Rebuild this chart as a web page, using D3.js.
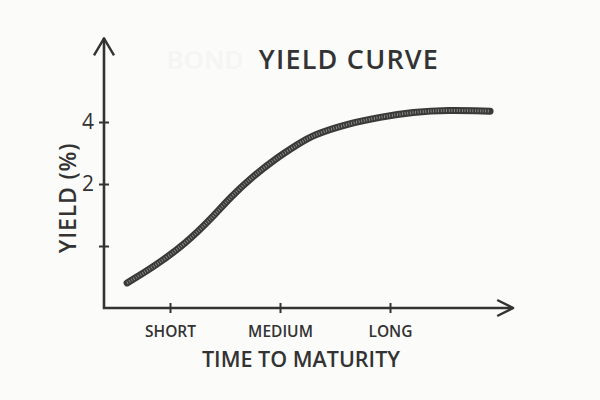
<!DOCTYPE html>
<html>
<head>
<meta charset="utf-8">
<script src="https://cdn.jsdelivr.net/npm/d3@7"></script>
<style>
  body { margin: 0; background: #fbfbf9; }
  text { font-family: "Open Sans", "DejaVu Sans", sans-serif; fill: #333; }
</style>
</head>
<body>
<div class="chart"></div>
<script>
// maturity: 1 = short, 2 = medium, 3 = long
const maturity = [0.61, 0.85, 1.15, 1.39, 1.55, 1.75, 1.94, 2.18, 2.30, 2.61, 2.91, 3.21, 3.52, 3.91];
const yieldPct = [-1.19, -0.68, 0.10, 0.94, 1.58, 2.23, 2.77, 3.32, 3.58, 3.94, 4.16, 4.32, 4.39, 4.35];
const xTicks = [1, 2, 3];
const xTickLabels = ['SHORT', 'MEDIUM', 'LONG'];
const yTicks = [0, 2, 4];
const yTickLabels = ['', '2', '4'];

const width = 600, height = 400;
const svg = d3.select('.chart')
              .append('svg')
              .attr('width', width)
              .attr('height', height);

svg.append('rect').attr('width', width).attr('height', height).attr('fill', '#fbfbf9');

const xScale = d3.scaleLinear().domain([1, 3]).range([170, 390]);
const yScale = d3.scaleLinear().domain([0, 4]).range([246, 122]);

const x0 = xScale(0.4), y0 = yScale(-2);
const xEnd = xScale(4.12), yEnd = yScale(6.7);
const ink = '#333';

// faint ghost text
svg.append('text')
    .attr('x', 205).attr('y', 69)
    .attr('text-anchor', 'middle')
    .style('font-size', '26px')
    .style('font-weight', 600)
    .style('fill', '#f5f5f3')
    .text('BOND');

// title
svg.append('text')
    .attr('x', 349).attr('y', 69)
    .attr('text-anchor', 'middle')
    .style('font-size', '27px')
    .style('font-weight', 600)
    .style('letter-spacing', '1.2px')
    .text('YIELD CURVE');

// axes
const xAxis = d3.axisBottom(xScale)
                .tickValues(xTicks)
                .tickFormat((d, i) => xTickLabels[i])
                .tickSize(0)
                .tickPadding(18);
const yAxis = d3.axisLeft(yScale)
                .tickValues(yTicks)
                .tickFormat((d, i) => yTickLabels[i])
                .tickSize(0)
                .tickPadding(10);

const gx = svg.append('g')
    .attr('transform', 'translate(0,' + y0 + ')')
    .call(xAxis);
gx.select('.domain').remove();
gx.selectAll('.tick line').attr('y1', -5).attr('y2', 5).attr('stroke', ink).attr('stroke-width', 2);
gx.selectAll('.tick text').style('font-size', '15.5px').style('font-weight', 600).style('fill', ink);

const gy = svg.append('g')
    .attr('transform', 'translate(' + x0 + ',0)')
    .call(yAxis);
gy.select('.domain').remove();
gy.selectAll('.tick line').attr('x1', -5).attr('x2', 5).attr('stroke', ink).attr('stroke-width', 2);
gy.selectAll('.tick text').style('font-size', '21px').style('fill', ink).attr('font-family', 'DejaVu Sans');

// axis lines with open arrows
svg.append('path')
    .attr('d', 'M' + x0 + ',' + yEnd + 'V' + y0 + 'H' + xEnd)
    .attr('fill', 'none').attr('stroke', ink).attr('stroke-width', 2.6);
svg.append('path')
    .attr('d', 'M' + (x0 - 10) + ',' + (yEnd + 17) + 'L' + x0 + ',' + yEnd + 'L' + (x0 + 10) + ',' + (yEnd + 17))
    .attr('fill', 'none').attr('stroke', ink).attr('stroke-width', 2.4).attr('stroke-linejoin', 'round');
svg.append('path')
    .attr('d', 'M' + (xEnd - 16) + ',' + (y0 - 8) + 'L' + xEnd + ',' + y0 + 'L' + (xEnd - 16) + ',' + (y0 + 8))
    .attr('fill', 'none').attr('stroke', ink).attr('stroke-width', 2.4).attr('stroke-linejoin', 'round');

// axis titles
svg.append('text')
    .attr('x', 301).attr('y', 367)
    .attr('text-anchor', 'middle')
    .style('font-size', '21.5px')
    .style('font-weight', 600)
    .text('TIME TO MATURITY');

svg.append('text')
    .attr('transform', 'translate(76,' + 198 + ') rotate(-90)')
    .attr('text-anchor', 'middle')
    .style('font-size', '23px')
    .style('font-weight', 600)
    .style('letter-spacing', '0.8px')
    .text('YIELD (%)');

// curve
const data = maturity.map((m, i) => ({m: m, y: yieldPct[i]}));
const line = d3.line()
               .x(d => xScale(d.m))
               .y(d => yScale(d.y))
               .curve(d3.curveBasis);

svg.append('path')
    .datum(data)
    .attr('d', line)
    .attr('fill', 'none')
    .attr('stroke', '#3a3a38')
    .attr('stroke-width', 7)
    .attr('stroke-linecap', 'round');
svg.append('path')
    .datum(data)
    .attr('d', line)
    .attr('fill', 'none')
    .attr('stroke', '#9a9a96')
    .attr('stroke-width', 3)
    .attr('stroke-dasharray', '0.8,1.8');
</script>
</body>
</html>
